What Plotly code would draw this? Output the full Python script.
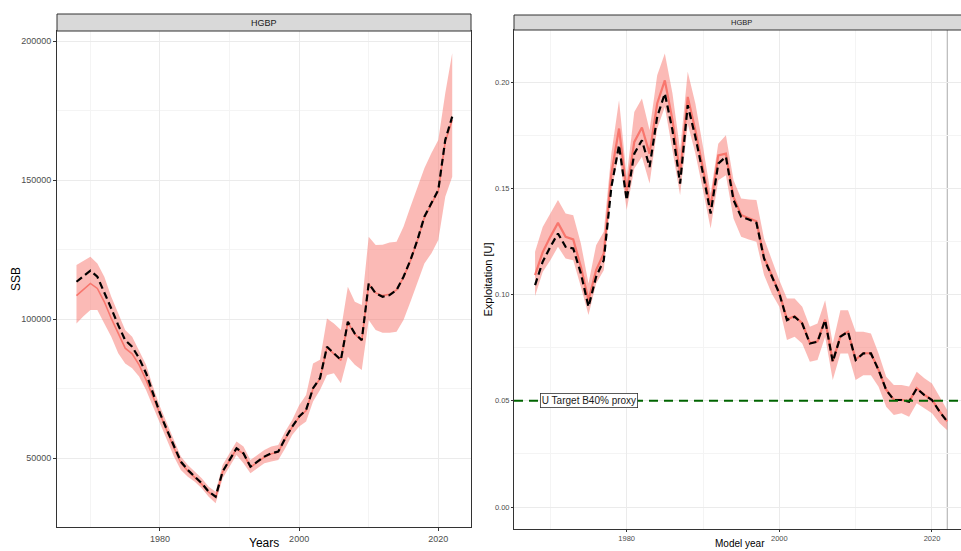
import plotly.graph_objects as go

# ---------------- data ----------------
years = list(range(1968, 2023))

ssb_ref = [113400, 115500, 117400, 115200, 109800, 103800, 97800, 92400, 90000, 85900,
           80500, 73300, 66100, 60100, 54100, 48700, 45700, 43300, 40900, 37900,
           36100, 45100, 49300, 53500, 51700, 46900, 48700, 50500, 51700, 52300,
           57100, 61300, 64900, 67300, 75100, 78700, 90000, 87700, 85300, 99000,
           94800, 92400, 112800, 109200, 108000, 108600, 110400, 115200, 121200, 128400,
           136800, 141600, 146400, 164400, 172800]
ssb_med = [108400, 110600, 112800, 111000, 106200, 100200, 94800, 89500, 87500, 83500,
           78100, 72100, 65500, 59600, 53700, 48300, 45300, 43000, 40600, 37700,
           35900, 44900, 49100, 53300, 51500, 46700, 48500, 50300, 51500, 52100,
           56900, 61100, 64700, 67100, 74900, 78500, 89800, 87500, 85100, 98800,
           94600, 92200, 112600, 109400, 108400, 108900, 110500, 115000, 121000, 128200,
           136500, 141300, 146100, 163800, 171600]
ssb_hi = [119400, 121000, 122400, 120000, 115200, 108000, 102000, 96000, 93600, 88800,
          83500, 75600, 68500, 62500, 56500, 50500, 47500, 45100, 42700, 39700,
          37900, 47500, 51700, 55900, 54100, 49300, 51100, 52900, 54100, 54700,
          59500, 63700, 69000, 72700, 84000, 85300, 100200, 98400, 96000, 111600,
          106200, 105000, 129600, 126600, 126700, 127500, 127800, 133200, 140400, 147600,
          154200, 159600, 164400, 181200, 195600]
ssb_lo = [98400, 101000, 103200, 103200, 98400, 93600, 87700, 84000, 82300, 79300,
          74500, 68500, 62500, 56500, 50500, 45700, 43300, 41500, 39100, 36100,
          33700, 42700, 46900, 51100, 48100, 44500, 46300, 48100, 48700, 49300,
          53500, 58300, 61300, 63100, 70300, 74500, 79900, 80500, 76900, 86400,
          83500, 81700, 99600, 96000, 95100, 95100, 95400, 99600, 106200, 112800,
          120000, 123600, 128400, 144000, 151200]

u_ref = [0.1045, 0.1155, 0.1225, 0.1288, 0.1225, 0.1217, 0.1100, 0.0943, 0.1084, 0.1162,
         0.1507, 0.1704, 0.1445, 0.1664, 0.1727, 0.1601, 0.1837, 0.1947, 0.1774, 0.1523,
         0.1892, 0.1743, 0.1570, 0.1382, 0.1617, 0.1649, 0.1445, 0.1366, 0.1354, 0.1338,
         0.1170, 0.1084, 0.1005, 0.0880, 0.0896, 0.0864, 0.0770, 0.0778, 0.0880, 0.0684,
         0.0802, 0.0825, 0.0692, 0.0723, 0.0723, 0.0645, 0.0551, 0.0504, 0.0504, 0.0496,
         0.0558, 0.0527, 0.0504, 0.0449, 0.0402]
u_med = [0.1092, 0.1200, 0.1272, 0.1338, 0.1272, 0.1260, 0.1131, 0.0974, 0.1115, 0.1194,
         0.1570, 0.1782, 0.1484, 0.1719, 0.1787, 0.1664, 0.1900, 0.2009, 0.1821, 0.1570,
         0.1931, 0.1774, 0.1594, 0.1413, 0.1656, 0.1664, 0.1460, 0.1375, 0.1360, 0.1345,
         0.1175, 0.1088, 0.1008, 0.0884, 0.0898, 0.0866, 0.0772, 0.0780, 0.0882, 0.0686,
         0.0804, 0.0826, 0.0694, 0.0724, 0.0724, 0.0646, 0.0552, 0.0505, 0.0505, 0.0497,
         0.0559, 0.0528, 0.0505, 0.0450, 0.0403]
u_hi = [0.1202, 0.1319, 0.1382, 0.1445, 0.1382, 0.1374, 0.1241, 0.1053, 0.1233, 0.1296,
        0.1664, 0.1915, 0.1555, 0.1860, 0.1923, 0.1774, 0.2033, 0.2135, 0.1947, 0.1680,
        0.2049, 0.1900, 0.1696, 0.1476, 0.1711, 0.1751, 0.1539, 0.1453, 0.1448, 0.1445,
        0.1264, 0.1162, 0.1068, 0.0982, 0.0982, 0.0943, 0.0849, 0.0864, 0.0974, 0.0770,
        0.0927, 0.0927, 0.0825, 0.0825, 0.0817, 0.0723, 0.0613, 0.0574, 0.0574, 0.0568,
        0.0637, 0.0606, 0.0582, 0.0519, 0.0456]
u_lo = [0.0993, 0.1107, 0.1162, 0.1225, 0.1170, 0.1162, 0.1037, 0.0904, 0.1053, 0.1115,
        0.1492, 0.1664, 0.1398, 0.1594, 0.1649, 0.1523, 0.1782, 0.1884, 0.1680, 0.1468,
        0.1805, 0.1664, 0.1492, 0.1311, 0.1539, 0.1562, 0.1358, 0.1272, 0.1260, 0.1249,
        0.1092, 0.1005, 0.0943, 0.0786, 0.0802, 0.0770, 0.0684, 0.0692, 0.0802, 0.0598,
        0.0723, 0.0723, 0.0598, 0.0621, 0.0621, 0.0566, 0.0472, 0.0433, 0.0441, 0.0425,
        0.0488, 0.0464, 0.0441, 0.0394, 0.0362]

U_TARGET = 0.05
U_TARGET_LABEL = "U Target B40% proxy"
TERMINAL_YEAR = 2022
PANEL_TITLE = "HGBP"

# ---------------- styling ----------------
W, H = 961, 551
FONT = "Liberation Sans, Arial, sans-serif"
RED = "#F8766D"
BAND = "rgba(248,118,109,0.5)"
BORDER = "#333333"


def fx(p):
    return p / W


def fy(p):
    return 1 - p / H


fig = go.Figure()


def add_panel(xa, ya, lo, hi, med, ref, lw_red, lw_ref, dash_ref):
    fig.add_trace(go.Scatter(x=years, y=lo, xaxis=xa, yaxis=ya, mode="lines",
                             line=dict(width=0, color=BAND), showlegend=False,
                             hoverinfo="skip"))
    fig.add_trace(go.Scatter(x=years, y=hi, xaxis=xa, yaxis=ya, mode="lines",
                             line=dict(width=0, color=BAND), fill="tonexty",
                             fillcolor=BAND, showlegend=False, hoverinfo="skip"))
    fig.add_trace(go.Scatter(x=years, y=med, xaxis=xa, yaxis=ya, mode="lines",
                             line=dict(width=lw_red, color=RED), showlegend=False))
    fig.add_trace(go.Scatter(x=years, y=ref, xaxis=xa, yaxis=ya, mode="lines",
                             line=dict(width=lw_ref, color="black", dash=dash_ref),
                             showlegend=False))


add_panel("x", "y", ssb_lo, ssb_hi, ssb_med, ssb_ref, 1.6, 2.2, "7px,4px")
add_panel("x2", "y2", u_lo, u_hi, u_med, u_ref, 2.2, 2.2, "7px,4px")

common_axis = dict(showline=True, linecolor=BORDER, linewidth=1, ticks="outside",
                   tickcolor=BORDER, zeroline=False, showgrid=True,
                   gridcolor="#EBEBEB", gridwidth=1)

# panel geometry (pixels)
LX0, LX1, LY0, LY1 = 57, 471, 31, 527
RX0, RX1, RY0, RY1 = 514, 961, 30, 529

fig.update_layout(
    width=W, height=H, margin=dict(l=0, r=0, t=0, b=0),
    paper_bgcolor="white", plot_bgcolor="white", showlegend=False,
    xaxis=dict(domain=[fx(LX0), fx(LX1)], range=[1965.2, 2024.7], anchor="y",
               tick0=1980, dtick=20, ticklen=3, mirror=True,
               tickfont=dict(family=FONT, size=9, color="#4D4D4D"),
               minor=dict(tick0=1970, dtick=10, showgrid=True, gridcolor="#F4F4F4",
                          gridwidth=0.7),
               **common_axis),
    yaxis=dict(domain=[fy(LY1), fy(LY0)], range=[25180, 203600], anchor="x",
               tick0=0, dtick=50000, tickformat="d", ticklen=3, mirror=True,
               tickfont=dict(family=FONT, size=9, color="#4D4D4D"),
               minor=dict(tick0=0, dtick=25000, showgrid=True, gridcolor="#F4F4F4",
                          gridwidth=0.7),
               **common_axis),
    xaxis2=dict(domain=[fx(RX0), fx(RX1)], range=[1965.24, 2023.8], anchor="y2",
                tick0=1980, dtick=20, ticklen=2, mirror=True,
                tickfont=dict(family=FONT, size=7.5, color="#4D4D4D"),
                minor=dict(tick0=1970, dtick=10, showgrid=True, gridcolor="#F4F4F4",
                           gridwidth=0.7),
                **common_axis),
    yaxis2=dict(domain=[fy(RY1), fy(RY0)], range=[-0.01035, 0.2246], anchor="x2",
                tick0=0, dtick=0.05, tickformat=".2f", ticklen=2, mirror=False,
                tickfont=dict(family=FONT, size=7.5, color="#4D4D4D"),
                minor=dict(tick0=0, dtick=0.025, showgrid=True, gridcolor="#F4F4F4",
                           gridwidth=0.7),
                **common_axis),
)

shapes = [
    # facet strips
    dict(type="rect", xref="paper", yref="paper", x0=fx(LX0), x1=fx(LX1),
         y0=fy(LY0), y1=fy(14), fillcolor="#D9D9D9", line=dict(color=BORDER, width=1),
         layer="above"),
    dict(type="rect", xref="paper", yref="paper", x0=fx(RX0), x1=fx(975),
         y0=fy(RY0), y1=fy(15), fillcolor="#D9D9D9", line=dict(color=BORDER, width=1),
         layer="above"),
    # terminal year line
    dict(type="line", xref="x2", yref="y2 domain", x0=TERMINAL_YEAR, x1=TERMINAL_YEAR,
         y0=0, y1=1, line=dict(color="#AAAAAA", width=1), layer="below"),
    # target line
    dict(type="line", xref="x2 domain", yref="y2", x0=0, x1=1, y0=U_TARGET, y1=U_TARGET,
         line=dict(color="#006400", width=2, dash="9px,6px"), layer="above"),
]
fig.update_layout(shapes=shapes)

annotations = [
    dict(text=PANEL_TITLE, xref="paper", yref="paper", x=fx((LX0 + LX1) / 2),
         y=fy((14 + LY0) / 2), showarrow=False, xanchor="center", yanchor="middle",
         font=dict(family=FONT, size=9, color="#1A1A1A")),
    dict(text=PANEL_TITLE, xref="paper", yref="paper", x=fx(741),
         y=fy((15 + RY0) / 2), showarrow=False, xanchor="center", yanchor="middle",
         font=dict(family=FONT, size=7.5, color="#1A1A1A")),
    dict(text="SSB", xref="paper", yref="paper", x=fx(16), y=fy((LY0 + LY1) / 2),
         textangle=-90, showarrow=False, xanchor="center", yanchor="middle",
         font=dict(family=FONT, size=12, color="black")),
    dict(text="Years", xref="paper", yref="paper", x=fx((LX0 + LX1) / 2), y=fy(543),
         showarrow=False, xanchor="center", yanchor="middle",
         font=dict(family=FONT, size=12, color="black")),
    dict(text="Exploitation [U]", xref="paper", yref="paper", x=fx(487),
         y=fy((RY0 + RY1) / 2), textangle=-90, showarrow=False, xanchor="center",
         yanchor="middle", font=dict(family=FONT, size=11, color="black")),
    dict(text="Model year", xref="paper", yref="paper", x=fx(740), y=fy(543),
         showarrow=False, xanchor="center", yanchor="middle",
         font=dict(family=FONT, size=10, color="black")),
    dict(text=U_TARGET_LABEL, xref="x2", yref="y2", x=1975, y=U_TARGET,
         showarrow=False, xanchor="center", yanchor="middle",
         font=dict(family=FONT, size=10, color="#1A1A1A"),
         bgcolor="white", bordercolor=BORDER, borderwidth=0.8, borderpad=1),
]
fig.update_layout(annotations=annotations)

fig.write_html("out.html")
